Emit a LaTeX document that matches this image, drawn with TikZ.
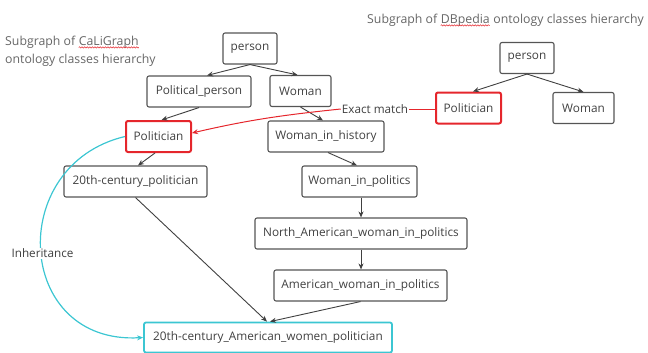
\documentclass[tikz,border=0pt]{standalone}
\usepackage{fontspec}
\setmainfont{Open Sans}
\usetikzlibrary{arrows.meta,decorations.pathmorphing}

\definecolor{boxline}{HTML}{555555}
\definecolor{txt}{HTML}{404040}
\definecolor{ttl}{HTML}{666666}
\definecolor{matchred}{HTML}{E5262C}
\definecolor{inhcyan}{HTML}{3CC6D2}
\definecolor{edgegray}{HTML}{404040}

\tikzset{
  cls/.style={draw=boxline, line width=1.1pt, rounded corners=2pt, minimum height=31pt,
              inner sep=0pt, text=txt, font=\fontsize{11.8}{14}\selectfont},
  hit/.style={cls, draw=matchred, line width=2pt},
  leaf/.style={cls, draw=inhcyan, line width=1.8pt, minimum height=30pt},
  isa/.style={draw=edgegray, line width=0.9pt, -{Stealth[length=6pt,width=5pt]}},
  title/.style={text=ttl, font=\fontsize{12.3}{17}\selectfont, inner sep=0pt, anchor=west},
  nextword/.style={title, anchor=base west},
  spellwave/.style={draw=matchred, line width=0.5pt, decorate,
              decoration={snake, amplitude=0.7pt, segment length=2.6pt}},
  tag/.style={fill=white, inner sep=1pt, text=txt, font=\fontsize{11.7}{14}\selectfont},
}

\begin{document}
\begin{tikzpicture}[x=1pt,y=-1pt]
\useasboundingbox (0,0) rectangle (648,353);

% headings, the unknown words carry a wavy red underline
\node[title] (t1a) at (5,42) {Subgraph of};
\node[nextword] (t1b) at ([xshift=3.2pt]t1a.base east) {CaLiGraph};
\node[title] (t2) at (5,60) {ontology classes hierarchy};
\node[title] (t3a) at (367,20) {Subgraph of};
\node[nextword] (t3b) at ([xshift=3.2pt]t3a.base east) {DBpedia};
\node[nextword] (t3c) at ([xshift=3.2pt]t3b.base east) {ontology classes hierarchy};
\draw[spellwave] ([yshift=-2.2pt]t1b.base west) -- ([yshift=-2.2pt]t1b.base east);
\draw[spellwave] ([yshift=-2.2pt]t3b.base west) -- ([yshift=-2.2pt]t3b.base east);

% CaLiGraph classes
\node[cls, minimum width=54pt]  (cp)  at (250,48.5)   {person};
\node[cls, minimum width=104pt] (pp)  at (199,91.5)   {Political\_person};
\node[cls, minimum width=61pt]  (cw)  at (300.5,91)   {Woman};
\node[hit, minimum width=65pt]  (pol) at (158.5,136.5) {Politician};
\node[cls, minimum width=116pt] (wih) at (326,136.5)  {Woman\_in\_history};
\node[cls, minimum width=143pt] (tc)  at (135.5,181.5) {20th-century\_politician};
\node[cls, minimum width=115pt] (wip) at (359.5,181.5) {Woman\_in\_politics};
\node[cls, minimum width=212pt] (na)  at (361,233.5)  {North\_American\_woman\_in\_politics};
\node[cls, minimum width=173pt] (aw)  at (360.5,285.5) {American\_woman\_in\_politics};
\node[leaf, minimum width=248pt] (tgt) at (268,337.5) {20th-century\_American\_women\_politician};

% DBpedia classes
\node[cls, minimum width=54pt] (dbp)   at (527,58)    {person};
\node[hit, minimum width=65pt] (dbpol) at (468.5,108) {Politician};
\node[cls, minimum width=61pt] (dbw)   at (583.5,108) {Woman};

% subclass edges
\draw[isa] (cp.south) -- ([xshift=8pt]pp.north);
\draw[isa] (cp.south) -- ([xshift=-3pt]cw.north);
\draw[isa] (pp.south) -- ([xshift=3pt]pol.north);
\draw[isa] (cw.south) -- ([xshift=-3pt]wih.north);
\draw[isa] ([xshift=2pt]wih.south) -- ([xshift=-2.5pt]wip.north);
\draw[isa] ([xshift=1.5pt]wip.south) -- (na.north);
\draw[isa] (na.south) -- (na.south |- aw.north);
\draw[isa] (aw.south) -- ([xshift=2pt]tgt.north);
\draw[isa] ([xshift=-3.5pt]pol.south) -- ([xshift=2.5pt]tc.north);
\draw[isa] (tc.south) -- ([xshift=-1pt]tgt.north);
\draw[isa] (dbp.south) -- ([xshift=4.5pt]dbpol.north);
\draw[isa] (dbp.south) -- (dbw.north);

% exact match between the two hierarchies
\node[tag] (em) at (375,109) {Exact match};
\draw[matchred, line width=1pt] (em.east) -- (em.east -| dbpol.west);
\draw[matchred, line width=1pt, -{Stealth[length=6pt,width=5pt]}]
  (em.west) to[out=186, in=13] ([yshift=3.5pt]pol.east);

% inheritance
\draw[inhcyan, line width=1.2pt, -{Stealth[length=6pt,width=5pt]}]
  (pol.west) .. controls (5,165) and (15,345) .. (tgt.west);
\node[tag] (inh) at (42.5,253) {Inheritance};
\end{tikzpicture}
\end{document}
